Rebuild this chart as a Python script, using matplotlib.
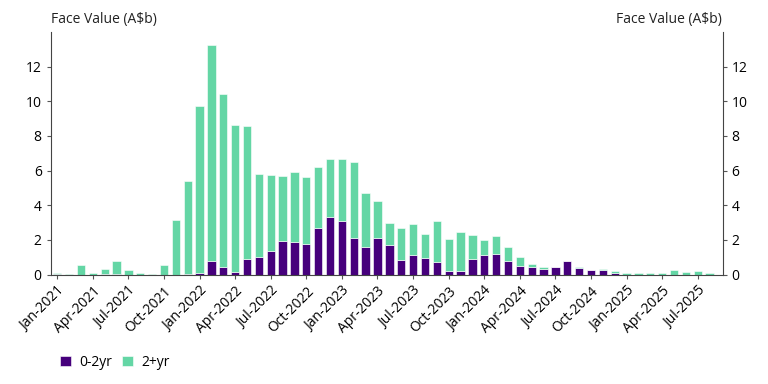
import matplotlib
matplotlib.use('Agg')
import matplotlib.pyplot as plt
import numpy as np
import pandas as pd

plt.rcParams.update({
    'font.family': ['Open Sans', 'DejaVu Sans'],
    'font.size': 10,
})

months = pd.date_range('2021-01-01', '2025-08-01', freq='MS')

short_term = [0.02, 0.0, 0.0, 0.0, 0.03, 0.05, 0.0, 0.0, 0.0, 0.0, 0.0, 0.03,
              0.08, 0.78, 0.43, 0.15, 0.87, 0.99, 1.34, 1.95, 1.87, 1.78, 2.70, 3.31,
              3.07, 2.10, 1.58, 2.10, 1.70, 0.83, 1.14, 0.95, 0.70, 0.22, 0.22, 0.91,
              1.12, 1.18, 0.78, 0.51, 0.44, 0.34, 0.42, 0.76, 0.38, 0.26, 0.29, 0.10,
              0.0, 0.0, 0.0, 0.0, 0.0, 0.0, 0.0, 0.0]
total = [0.10, 0.03, 0.53, 0.10, 0.32, 0.78, 0.26, 0.10, 0.03, 0.57, 3.12, 5.37,
         9.73, 13.27, 10.44, 8.62, 8.58, 5.79, 5.72, 5.68, 5.93, 5.64, 6.20, 6.68,
         6.64, 6.48, 4.68, 4.24, 2.98, 2.68, 2.93, 2.35, 3.10, 2.06, 2.45, 2.31,
         1.97, 2.24, 1.60, 0.99, 0.60, 0.41, 0.42, 0.76, 0.41, 0.26, 0.32, 0.18,
         0.08, 0.08, 0.08, 0.08, 0.26, 0.14, 0.20, 0.08]
long_term = [t - s for t, s in zip(total, short_term)]

PURPLE = '#46007c'
GREEN = '#64d6a5'

fig = plt.figure(figsize=(7.68, 3.84), dpi=100)
ax = fig.add_axes([0.066, 0.285, 0.875, 0.632])

x = np.arange(len(months))
ax.bar(x, short_term, width=0.7, color=PURPLE, edgecolor='white', linewidth=0.4, label='0-2yr')
ax.bar(x, long_term, bottom=short_term, width=0.7, color=GREEN, edgecolor='white',
       linewidth=0.4, label='2+yr')

ax.set_xlim(-0.55, 56.1)
ax.set_ylim(0, 14)
ax.set_yticks(range(0, 13, 2))
ax.tick_params(axis='y', labelright=True, right=True, length=3, color='#555555',
               labelsize=10)
tick_idx = x[::3]
ax.set_xticks(tick_idx)
ax.set_xticklabels([m.strftime('%b-%Y') for m in months[::3]], rotation=45,
                   ha='right', rotation_mode='anchor', fontsize=10)
ax.tick_params(axis='x', length=3, color='#555555')

ax.spines['top'].set_visible(False)
for s in ['left', 'right', 'bottom']:
    ax.spines[s].set_color('#444444')

fig.text(0.066, 0.95, 'Face Value (A$b)', ha='left', va='center', fontsize=10, color='#222222')
fig.text(0.94, 0.95, 'Face Value (A$b)', ha='right', va='center', fontsize=10, color='#222222')

ax.legend(loc='upper left', bbox_to_anchor=(-0.005, -0.28), ncol=2, frameon=False,
          handlelength=0.8, handleheight=0.8, handletextpad=0.6, columnspacing=0.7,
          fontsize=10)

fig.savefig('out.png', dpi=100)
